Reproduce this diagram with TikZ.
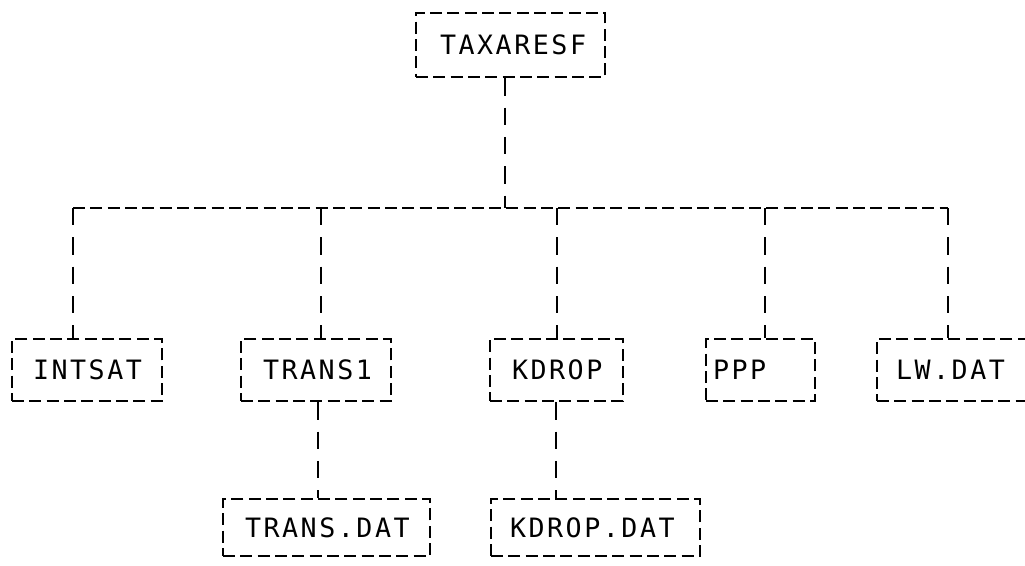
\documentclass[tikz,border=0pt]{standalone}
\usepackage{fontspec}
\newfontfamily\plotfont[LetterSpace=9.5]{DejaVu Sans Mono}
\tikzset{
  boxed/.style={draw, line width=1.8pt, dash pattern=on 9pt off 4pt, inner ysep=0pt,
    align=left, font=\plotfont\fontsize{20}{22}\selectfont},
  hline/.style={line width=1.8pt, dash pattern=on 9pt off 4pt},
  vline/.style={line width=1.8pt, dash pattern=on 13pt off 9pt},
}
\begin{document}
\begin{tikzpicture}[x=0.75pt,y=-0.75pt]
\useasboundingbox (0,0) rectangle (1025,565);
\fill[white] (0,0) rectangle (1025,565);
% boxes
\node[boxed, minimum width=141.75pt, minimum height=48pt, inner xsep=18pt, text width=105.75pt] (TAXARESF) at (510.5,45) {TAXARESF};
\node[boxed, minimum width=112.5pt, minimum height=46.5pt, inner xsep=15.75pt, text width=81pt] (INTSAT) at (87,370) {INTSAT};
\node[boxed, minimum width=112.5pt, minimum height=46.5pt, inner xsep=16.5pt, text width=79.5pt] (TRANS1) at (316,370) {TRANS1};
\node[boxed, minimum width=99.75pt, minimum height=46.5pt, inner xsep=16.5pt, text width=66.75pt] (KDROP) at (556.5,370) {KDROP};
\node[boxed, minimum width=81.75pt, minimum height=46.5pt, inner xsep=5.25pt, text width=71.25pt] (PPP) at (760.5,370) {PPP};
\node[boxed, minimum width=118.5pt, minimum height=46.5pt, inner xsep=14.25pt, text width=90pt] (LWDAT) at (956,370) {LW.DAT};
\node[boxed, minimum width=155.25pt, minimum height=42.75pt, inner xsep=16.5pt, text width=122.25pt] (TRANSDAT) at (326.5,527.5) {TRANS.DAT};
\node[boxed, minimum width=156.75pt, minimum height=42.75pt, inner xsep=14.25pt, text width=128.25pt] (KDROPDAT) at (595.5,527.5) {KDROP.DAT};
% bus coordinates
\coordinate (t0) at (505,208);
\coordinate (b1) at (73,208);
\coordinate (b2) at (321,208);
\coordinate (b3) at (557,208);
\coordinate (b4) at (765,208);
\coordinate (b5) at (948,208);
\coordinate (d1) at (318,450);
\coordinate (d2) at (556,450);
% connectors
\draw[vline] (TAXARESF.south -| t0) -- (t0);
\draw[hline] (b1) -- (b5);
\draw[vline] (b1) -- (INTSAT.north -| b1);
\draw[vline] (b2) -- (TRANS1.north -| b2);
\draw[vline] (b3) -- (KDROP.north -| b3);
\draw[vline] (b4) -- (PPP.north -| b4);
\draw[vline] (b5) -- (LWDAT.north -| b5);
\draw[vline] (TRANS1.south -| d1) -- (TRANSDAT.north -| d1);
\draw[vline] (KDROP.south -| d2) -- (KDROPDAT.north -| d2);
\end{tikzpicture}
\end{document}
